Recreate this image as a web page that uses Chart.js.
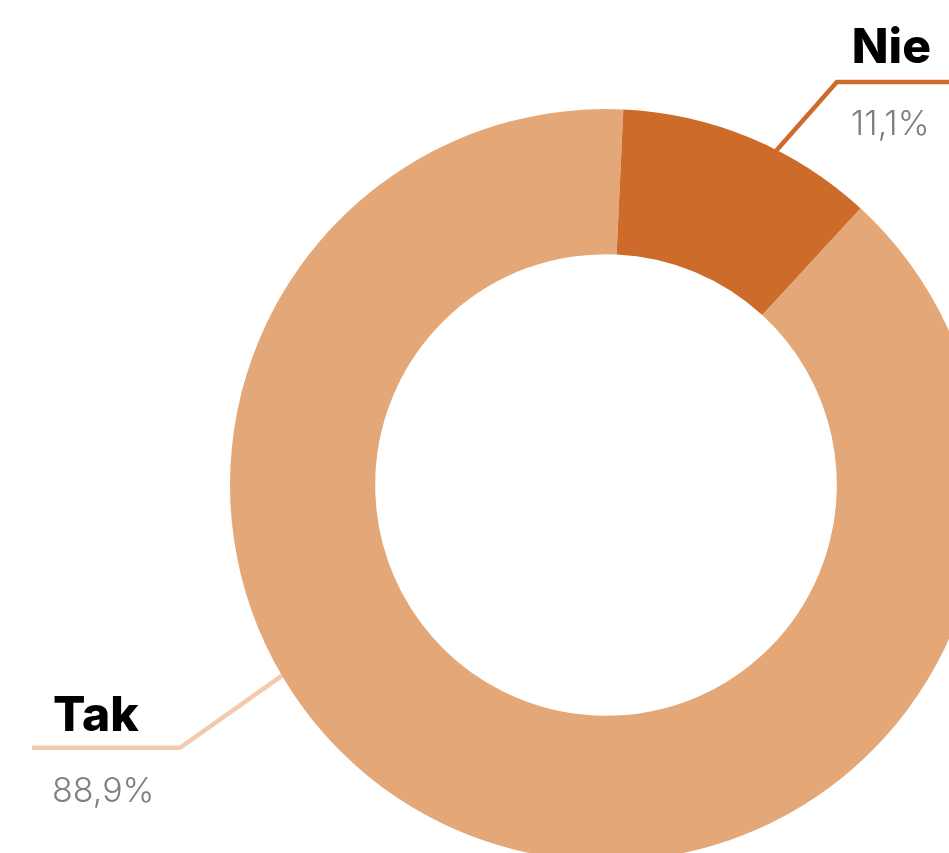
<!DOCTYPE html>
<html>
<head>
<meta charset="utf-8">
<script src="https://cdn.jsdelivr.net/npm/chart.js@4.4.1/dist/chart.umd.min.js"></script>
<style>
  html, body { margin: 0; padding: 0; width: 949px; height: 853px; overflow: hidden; background: #fff; }
  #wrap { position: absolute; left: 0; top: 0; width: 1212px; height: 970px; }
</style>
</head>
<body>
<div id="wrap"><canvas id="c"></canvas></div>
<script>
const categories = ['Tak', 'Nie'];
const values = [88.9, 11.1];
const valueLabels = ['88,9%', '11,1%'];
const sliceColors = ['#E4A777', '#CD6B2A'];
const leaderColors = ['#F4CAAE', '#CD6B2A'];

// leader geometry (styling): angle where leader meets ring (deg clockwise from top),
// elbow relative to centre in units of outer radius, horizontal run direction/length
const leaderStyle = [
  { angle: 239.8, elbow: [-1.133, 0.699], dir: -1, run: 148, textDx: 21, nameDy: -17, pctDy: 54 },
  { angle: 26.2,  elbow: [0.614, -1.072], dir: 1,  run: 400, textDx: 15, nameDy: -19, pctDy: 53 }
];

const leaderPlugin = {
  id: 'leaders',
  beforeDatasetsDraw(chart) {
    const ctx = chart.ctx;
    const arc = chart.getDatasetMeta(0).data[0];
    const cx = arc.x, cy = arc.y, R = arc.outerRadius;
    ctx.save();
    leaderStyle.forEach((s, i) => {
      const a = s.angle * Math.PI / 180;
      const sx = cx + Math.sin(a) * (R - 20);
      const sy = cy - Math.cos(a) * (R - 20);
      const ex = cx + s.elbow[0] * R;
      const ey = cy + s.elbow[1] * R;
      ctx.beginPath();
      ctx.moveTo(sx, sy);
      ctx.lineTo(ex, ey);
      ctx.lineTo(ex + s.dir * s.run, ey);
      ctx.strokeStyle = leaderColors[i];
      ctx.lineWidth = 4.5;
      ctx.lineJoin = 'miter';
      ctx.stroke();
    });
    ctx.restore();
  },
  afterDatasetsDraw(chart) {
    const ctx = chart.ctx;
    const arc = chart.getDatasetMeta(0).data[0];
    const cx = arc.x, cy = arc.y, R = arc.outerRadius;
    ctx.save();
    ctx.textAlign = 'left';
    ctx.textBaseline = 'alphabetic';
    leaderStyle.forEach((s, i) => {
      const ex = cx + s.elbow[0] * R;
      const ey = cy + s.elbow[1] * R;
      const tx = (s.dir < 0 ? ex - s.run : ex) + s.textDx;
      ctx.fillStyle = '#000000';
      ctx.font = '800 48px Inter, "Open Sans", sans-serif';
      ctx.fillText(categories[i], tx, ey + s.nameDy);
      ctx.fillStyle = '#7f7f7f';
      ctx.font = '300 34px Inter, "Open Sans", sans-serif';
      ctx.fillText(valueLabels[i], tx - 1, ey + s.pctDy);
    });
    ctx.restore();
  }
};

new Chart(document.getElementById('c'), {
  type: 'doughnut',
  data: {
    labels: categories,
    datasets: [{
      data: values,
      backgroundColor: sliceColors,
      borderWidth: 0,
      hoverOffset: 0
    }]
  },
  options: {
    responsive: true,
    maintainAspectRatio: false,
    animation: false,
    rotation: 42.6,
    cutout: '61.4%',
    layout: { padding: { left: 230, right: 230, top: 109, bottom: 109 } },
    plugins: { legend: { display: false }, tooltip: { enabled: false } }
  },
  plugins: [leaderPlugin]
});
</script>
</body>
</html>
